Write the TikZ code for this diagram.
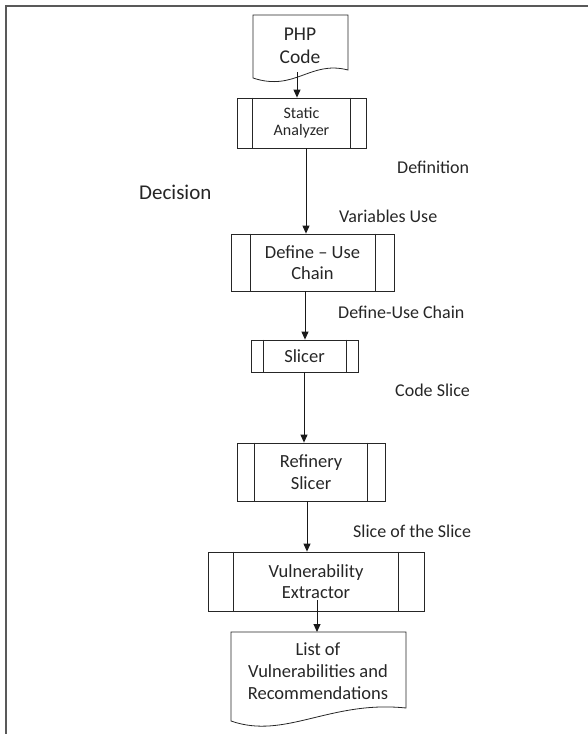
\documentclass[tikz,border=0pt]{standalone}
\usepackage{fontspec}
\setmainfont{Carlito}
\usetikzlibrary{arrows.meta}
\begin{document}
\begin{tikzpicture}[x=1pt,y=-1pt,
  line/.style={draw=black!85, line width=0.8pt},
  proc/.style={line, inner sep=0pt, align=center, text=black!85},
  arr/.style={draw=black!90, line width=1pt, -{Triangle[length=8pt,width=7pt]}},
  lbl/.style={anchor=west, inner sep=0pt, text=black!85, font=\fontsize{18}{21}\selectfont},
  boxfont/.style={font=\fontsize{18.5}{21.5}\selectfont}
]
\useasboundingbox (0,0) rectangle (588,734);
\draw[line width=1.8pt, black!65] (6,734) -- (6,6) -- (589,6);

% PHP Code document
\draw[line] (253,15) -- (348,15) -- (348,70) .. controls (310,60) and (295,92) .. (253,78) -- cycle;
\node[align=center, text=black!85, font=\fontsize{19.5}{23}\selectfont, inner sep=0pt] (php) at (300,46) {PHP\\Code};
\coordinate (phpout) at (297,72);

% Static Analyzer
\node[proc, minimum width=129, minimum height=50, font=\fontsize{16}{17.5}\selectfont] (sa) at (301.5,123) {Static\\Analyzer};
\draw[line] ([xshift=16]sa.north west) -- ([xshift=16]sa.south west);
\draw[line] ([xshift=-16]sa.north east) -- ([xshift=-16]sa.south east);

% Define - Use Chain
\node[proc, boxfont, minimum width=163, minimum height=57] (du) at (312.5,262.5) {Define -- Use\\Chain};
\draw[line] ([xshift=19.5]du.north west) -- ([xshift=19.5]du.south west);
\draw[line] ([xshift=-19.5]du.north east) -- ([xshift=-19.5]du.south east);

% Slicer
\node[proc, boxfont, minimum width=107, minimum height=32] (sl) at (304.5,356) {Slicer};
\draw[line] ([xshift=12.5]sl.north west) -- ([xshift=12.5]sl.south west);
\draw[line] ([xshift=-12.5]sl.north east) -- ([xshift=-12.5]sl.south east);

% Refinery Slicer
\node[proc, boxfont, minimum width=148, minimum height=58] (rs) at (311,472) {Refinery\\Slicer};
\draw[line] ([xshift=18]rs.north west) -- ([xshift=18]rs.south west);
\draw[line] ([xshift=-18]rs.north east) -- ([xshift=-18]rs.south east);

% Vulnerability Extractor
\node[proc, boxfont, minimum width=216, minimum height=59] (ve) at (316,581.5) {Vulnerability\\Extractor};
\draw[line] ([xshift=26]ve.north west) -- ([xshift=26]ve.south west);
\draw[line] ([xshift=-26]ve.north east) -- ([xshift=-26]ve.south east);
\coordinate (veout) at (317,600);

% List document
\draw[line] (231,632) -- (406,632) -- (406,708) .. controls (330,700) and (285,740) .. (231,721) -- cycle;
\node[align=center, text=black!85, font=\fontsize{18.5}{22}\selectfont, inner sep=0pt] (list) at (318,671) {List of\\Vulnerabilities and\\Recommendations};
\coordinate (listin) at (317,632);

% Arrows
\draw[arr] (phpout) -- (sa.north -| phpout);
\draw[arr] (sa.south -| 306,0) -- (du.north -| 306,0);
\draw[arr] (du.south -| 305,0) -- (sl.north -| 305,0);
\draw[arr] (sl.south -| 304,0) -- (rs.north -| 304,0);
\draw[arr] (rs.south -| 307,0) -- (ve.north -| 307,0);
\draw[arr] (veout) -- (listin);

% Labels
\node[lbl] (ldef) at (397,167) {Definition};
\node[lbl, font=\fontsize{21}{24}\selectfont] (ldec) at (139,192) {Decision};
\node[lbl] (lvar) at (339,216) {Variables Use};
\node[lbl] (lduc) at (338,312) {Define-Use Chain};
\node[lbl] (lcs) at (395,390) {Code Slice};
\node[lbl] (lss) at (353,531) {Slice of the Slice};
\end{tikzpicture}
\end{document}
